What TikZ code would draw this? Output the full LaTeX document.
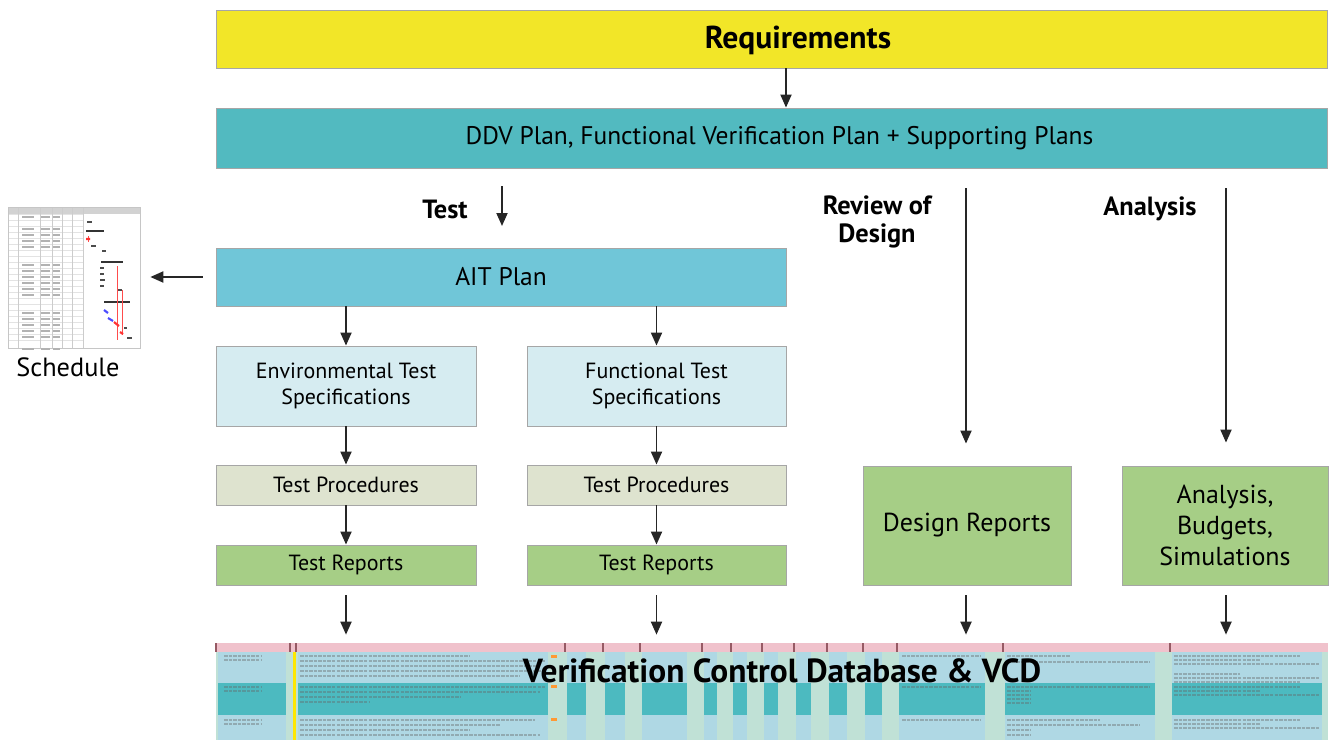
\documentclass[tikz,border=0pt]{standalone}
\usepackage{fontspec}
\setmainfont{PT Sans}
\usetikzlibrary{arrows.meta,positioning}

\definecolor{reqyellow}{RGB}{242,230,40}
\definecolor{ddvteal}{RGB}{82,186,192}
\definecolor{aitblue}{RGB}{112,198,216}
\definecolor{specblue}{RGB}{214,236,241}
\definecolor{procgray}{RGB}{222,227,207}
\definecolor{repgreen}{RGB}{166,206,134}
\definecolor{dbblue}{RGB}{175,216,228}
\definecolor{dbgreen}{RGB}{192,225,214}
\definecolor{dbteal}{RGB}{76,186,192}
\definecolor{dbpink}{RGB}{240,194,204}
\definecolor{dbsep}{RGB}{150,90,100}

\begin{document}
\begin{tikzpicture}[
    x=0.02cm, y=-0.02cm,
    box/.style={rectangle, draw=gray!70, line width=0.5pt, align=center, inner sep=2pt, font=\fontsize{12.5}{15}\selectfont},
    widebox/.style={box, minimum width=22.24cm, minimum height=1.2cm},
    specbox/.style={box, minimum width=5.2cm, minimum height=1.6cm, fill=specblue},
    stepbox/.style={box, minimum width=5.2cm, minimum height=0.8cm},
    resbox/.style={box, minimum width=4.14cm, minimum height=2.38cm, fill=repgreen, font=\fontsize{14.8}{17.5}\selectfont},
    head/.style={font=\bfseries\fontsize{15}{15.5}\selectfont, align=center},
    textline/.style={black!60, line width=0.8pt, dash pattern=on 2pt off 0.6pt, opacity=0.4},
    arrow/.style={-{Triangle[width=0.22cm,length=0.26cm]}, line width=1.1pt, draw=black!85}
]
    \useasboundingbox (0,0) rectangle (1335,740);

    % Top of the flow
    \node[widebox, fill=reqyellow, minimum height=1.16cm] (req) at (772,39) {};
    \node[font=\bfseries\fontsize{18}{20}\selectfont] (reqtxt) at (798,40) {Requirements};
    \node[widebox, fill=ddvteal, font=\fontsize{14.5}{17}\selectfont] (ddv) at (772,138)
        {\hspace*{0.3cm}DDV Plan, Functional Verification Plan + Supporting Plans};

    % Branch headings
    \node[head] (testlbl) at (445,209) {Test};
    \node[head] (revlbl) at (877,222) {Review of\\Design};
    \node[head] (anallbl) at (1150,209) {Analysis};

    % Test branch
    \node[box, fill=aitblue, minimum width=11.4cm, minimum height=1.16cm, font=\fontsize{14.5}{17}\selectfont] (ait) at (501,277) {AIT Plan};
    \node[specbox] (envspec) at (346,386) {Environmental Test\\Specifications};
    \node[specbox, minimum width=5.18cm] (funspec) at (656.5,386) {Functional Test\\Specifications};
    \node[stepbox, fill=procgray] (proc1) at (346,485) {Test Procedures};
    \node[stepbox, fill=procgray, minimum width=5.18cm] (proc2) at (656.5,485) {Test Procedures};
    \node[stepbox, fill=repgreen] (rep1) at (346,565) {Test Reports};
    \node[stepbox, fill=repgreen, minimum width=5.18cm] (rep2) at (656.5,565) {Test Reports};

    % Review and analysis results
    \node[resbox, minimum width=4.16cm] (design) at (967,525.5) {Design Reports};
    \node[resbox, minimum width=4.12cm] (anal) at (1225,525.5) {Analysis,\\Budgets,\\Simulations};

    % Schedule thumbnail (gantt chart)
    \node[minimum width=2.64cm, minimum height=2.82cm, inner sep=0] (sched) at (74,277.5) {};
    \fill[white] (8,207) rectangle (140,348);
    \fill[gray!35] (8,207) rectangle (140,214);
    \foreach \r in {0,...,21}
        \draw[gray!22, line width=0.3pt] (8,214+6*\r) -- (83,214+6*\r);
    \foreach \c in {18,40,52,62,72,83}
        \draw[gray!40, line width=0.3pt] (\c,207) -- (\c,348);
    \draw[gray!45, line width=0.3pt] (8,207) rectangle (140,348);
    \foreach \r in {1,3,4,5,6,9,10,11,12,13,14,17,18,19,20,21,23}
        \draw[gray!60, line width=0.7pt] (22,211+6*\r) -- (34,211+6*\r)
              (41,211+6*\r) -- (50,211+6*\r) (53,211+6*\r) -- (60,211+6*\r);
    \draw[black!80, line width=1.6pt] (86,231) -- (104,231) (101,262) -- (123,262) (104,302) -- (130,302);
    \draw[black!70, line width=1.2pt] (87,222) -- (92,222) (91,246) -- (96,246) (102,251) -- (106,251)
        (100,268) -- (104,268) (100,274) -- (104,274) (100,280) -- (105,280) (100,286) -- (104,286)
        (118,290) -- (122,290) (127,338) -- (132,338) (124,328) -- (127,328);
    \draw[red!70, line width=0.4pt] (117,266) -- (117,340) (122,290) -- (122,335) (88,236) -- (88,242);
    \draw[red!80, line width=1.2pt] (86,239) -- (90,239) (114,322) -- (119,326) (120,332) -- (123,334);
    \draw[blue!70, line width=1.2pt] (104,310) -- (108,313) (108,318) -- (113,321);
    \node[font=\fontsize{15}{17}\selectfont] (schedlbl) at (68,367) {Schedule};

    % Database strip
    \node[minimum width=22.24cm, minimum height=1.94cm, inner sep=0, fill=dbgreen] (db) at (772,691.5) {};
    \fill[dbpink] (216,643) rectangle (1328,652);
    \foreach \a/\b in {218/286, 298/548, 567/586, 605/625, 642/687, 704/717, 733/747, 764/778,
                       796/811, 829/847, 865/882, 899/985, 1005/1155, 1172/1322} {
        \fill[dbblue] (\a,652) rectangle (\b,740);
        \fill[dbteal] (\a,683) rectangle (\b,715);
        \draw[dbsep, line width=0.6pt] (\a-2,643) -- (\a-2,652);
    }
    \draw[dbsep, line width=0.6pt] (290,643) -- (290,652);
    \fill[yellow!90!orange] (293,652) rectangle (296,740);
    \foreach \y in {655,685,718}
        \fill[orange!80] (551,\y) rectangle (557,\y+3);
    \foreach \y/\e in {656/470, 661/545, 666/540, 671/545, 676/520, 687/545, 692/540, 697/460, 702/370,
                       720/535, 725/500, 730/470, 735/540}
        \draw[textline] (300,\y) -- (\e,\y);
    \foreach \y in {656,660,687,691,720,724}
        \draw[textline] (224,\y) -- (262,\y);
    \foreach \y/\e in {656/1070, 662/1150, 687/1150, 691/1030, 695/1030, 699/1030, 703/1030, 720/1100, 725/1140, 730/1030, 735/1030}
        \draw[textline] (1007,\y) -- (\e,\y);
    \foreach \y/\e in {656/1300, 660/1260, 664/1320, 674/1240, 678/1320, 682/1300, 687/1300, 691/1260, 695/1320, 720/1300, 724/1260, 728/1320}
        \draw[textline] (1174,\y) -- (\e,\y);
    \foreach \y in {656,687,720}
        \draw[textline] (902,\y) -- (980,\y);
    \node[font=\bfseries\fontsize{19}{21}\selectfont] (dbtxt) at (782,671) {Verification Control Database \& VCD};

    % Arrows
    \coordinate (reqarr) at (786,0);
    \draw[arrow] (req.south -| reqarr) -- (ddv.north -| reqarr);
    \coordinate (testtop) at (502,186);
    \coordinate (testend) at (502,226);
    \draw[arrow] (testtop) -- (testend);
    \coordinate (revtop) at (966,188);
    \draw[arrow] (revtop) -- ([yshift=0.44cm]design.north -| revtop);
    \coordinate (analtop) at (1226,188);
    \draw[arrow] (analtop) -- ([yshift=0.46cm]anal.north -| analtop);
    \draw[arrow, shorten <=0.26cm, shorten >=0.2cm] (ait.west) -- (ait.west -| sched.east);

    \draw[arrow] (ait.south -| envspec) -- (envspec.north);
    \draw[arrow] (ait.south -| funspec) -- (funspec.north);
    \draw[arrow] (envspec) -- (proc1);
    \draw[arrow] (funspec) -- (proc2);
    \draw[arrow] (proc1) -- (rep1);
    \draw[arrow] (proc2) -- (rep2);

    \draw[arrow, shorten <=0.2cm, shorten >=0.16cm] (rep1.south) -- (rep1.south |- db.north);
    \draw[arrow, shorten <=0.2cm, shorten >=0.16cm] (rep2.south) -- (rep2.south |- db.north);
    \draw[arrow, shorten <=0.2cm, shorten >=0.16cm] (design.south -| revtop) -- (db.north -| revtop);
    \draw[arrow, shorten <=0.2cm, shorten >=0.16cm] (anal.south -| analtop) -- (db.north -| analtop);
\end{tikzpicture}
\end{document}
